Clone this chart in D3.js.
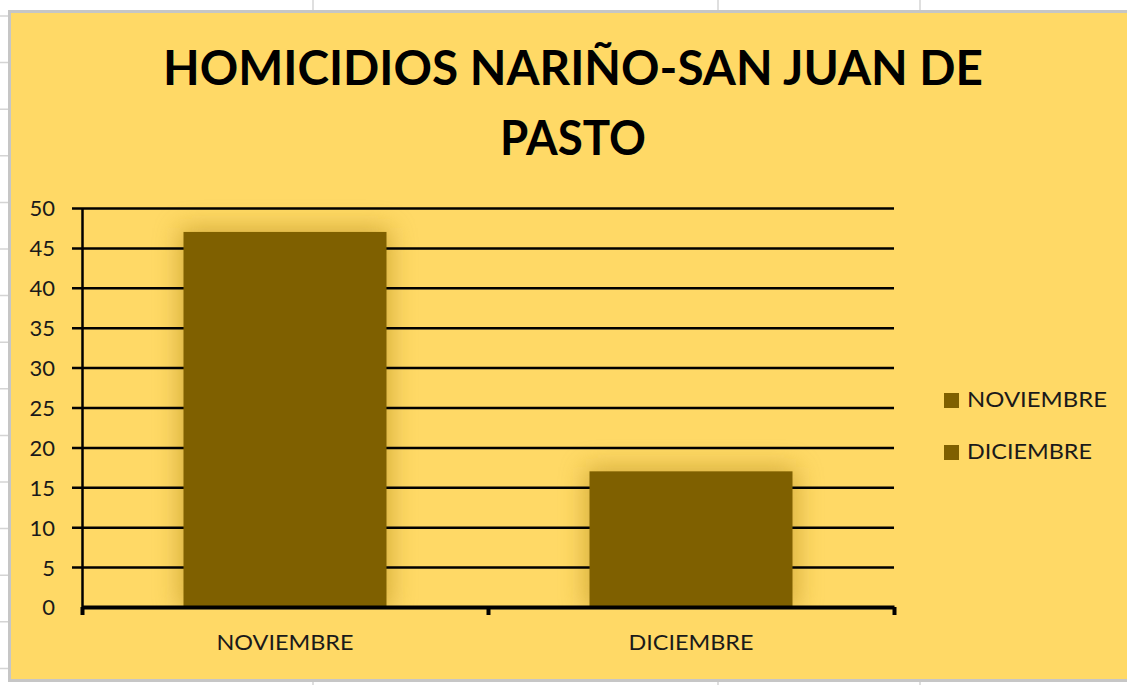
<!DOCTYPE html>
<html>
<head>
<meta charset="utf-8">
<script src="https://cdn.jsdelivr.net/npm/d3@7"></script>
<style>
  html, body { margin: 0; padding: 0; background: #fff; }
  svg { display: block; }
</style>
</head>
<body>
<script>
// chart data
var titleLines = ["HOMICIDIOS NARIÑO-SAN JUAN DE", "PASTO"];
var months = ["NOVIEMBRE", "DICIEMBRE"];
var homicidios = [47, 17];
var yTicks = [0, 5, 10, 15, 20, 25, 30, 35, 40, 45, 50];

var W = 1127, H = 685;
var svg = d3.select("body").append("svg").attr("width", W).attr("height", H);

/**************************
 * spreadsheet backdrop
 **************************/
var sheetCols = [313, 718, 920];
var sheetRows = d3.range(15).map(function(i) { return 16 + i * 46.6; });
svg.selectAll("line.col").data(sheetCols).enter().append("line")
  .attr("x1", function(d) { return d; }).attr("x2", function(d) { return d; })
  .attr("y1", 0).attr("y2", H).attr("stroke", "#d4d4d4").attr("stroke-width", 1.5);
svg.selectAll("line.row").data(sheetRows).enter().append("line")
  .attr("x1", 0).attr("x2", W)
  .attr("y1", function(d) { return d; }).attr("y2", function(d) { return d; })
  .attr("stroke", "#d4d4d4").attr("stroke-width", 1.5);

// chart area
svg.append("rect").attr("x", 9.5).attr("y", 11.5).attr("width", W + 10).attr("height", 669)
  .attr("fill", "#ffd966").attr("stroke", "#c6c6c6").attr("stroke-width", 3);

var defs = svg.append("defs");
var glow = defs.append("filter").attr("id", "glow")
  .attr("x", "-60%").attr("y", "-60%").attr("width", "220%").attr("height", "220%");
glow.append("feGaussianBlur").attr("stdDeviation", 13);

/**************************
 * title
 **************************/
svg.selectAll("text.title").data(titleLines).enter().append("text")
  .attr("class", "title")
  .attr("x", 573).attr("y", function(d, i) { return 85 + i * 70; })
  .attr("text-anchor", "middle")
  .attr("font-family", "Lato, 'Open Sans', sans-serif")
  .attr("font-weight", "bold").attr("font-size", 48)
  .attr("fill", "#000")
  .attr("textLength", function(d, i) { return i === 0 ? 820 : 146; })
  .attr("lengthAdjust", "spacingAndGlyphs")
  .text(function(d) { return d; });

/**************************
 * plot
 **************************/
var plotL = 82, plotR = 894, plotT = 208, plotB = 607;
var x = d3.scaleBand().domain(months).range([plotL, plotR]).paddingInner(0.5).paddingOuter(0.25);
var y = d3.scaleLinear().domain([0, 50]).range([plotB, plotT]);

// soft glow behind bars (under the gridlines)
var plotClip = defs.append("clipPath").attr("id", "plotclip");
plotClip.append("rect").attr("x", plotL).attr("y", plotT - 20).attr("width", plotR - plotL).attr("height", plotB - plotT + 20);
svg.append("g").attr("clip-path", "url(#plotclip)")
  .selectAll("rect.shadow").data(homicidios).enter().append("rect")
  .attr("class", "shadow")
  .attr("x", function(d, i) { return x(months[i]) - 4; })
  .attr("width", x.bandwidth() + 8)
  .attr("y", function(d) { return y(d) - 4; })
  .attr("height", function(d) { return plotB - y(d) + 8; })
  .attr("fill", "#b88f1c").attr("opacity", 0.6)
  .attr("filter", "url(#glow)");

// gridlines (extend 10px left of the axis as ticks)
var grid = svg.append("g").attr("transform", "translate(" + (plotL - 10) + ",0)")
  .call(d3.axisRight(y).tickValues(yTicks.slice(1)).tickSize(plotR - plotL + 10).tickFormat(""));
grid.select(".domain").remove();
grid.selectAll("line").attr("stroke", "#000").attr("stroke-width", 2.5);

// y axis line and labels
var yAxis = svg.append("g").attr("transform", "translate(" + plotL + ",0)")
  .call(d3.axisLeft(y).tickValues(yTicks).tickSize(0).tickPadding(27));
yAxis.select(".domain").attr("stroke", "#000").attr("stroke-width", 2.5);
yAxis.selectAll("text")
  .attr("font-family", "Lato, 'Open Sans', sans-serif").attr("font-size", 22)
  .attr("fill", "#1a1a1a").attr("dy", "0.36em");

// bars
svg.selectAll("rect.bar").data(homicidios).enter().append("rect")
  .attr("class", "bar")
  .attr("x", function(d, i) { return x(months[i]); })
  .attr("width", x.bandwidth())
  .attr("y", function(d) { return y(d); })
  .attr("height", function(d) { return plotB - y(d); })
  .attr("fill", "#7f6000");

// x axis
var xEdges = d3.scaleLinear().domain([0, months.length]).range([plotL, plotR]);
var xAxis = svg.append("g").attr("transform", "translate(0," + plotB + ")")
  .call(d3.axisBottom(xEdges).tickValues(d3.range(months.length + 1)).tickSize(8).tickSizeOuter(0).tickFormat(""));
xAxis.select(".domain").attr("stroke", "#000").attr("stroke-width", 4);
xAxis.selectAll("line").attr("stroke", "#000").attr("stroke-width", 4);

svg.selectAll("text.xlab").data(months).enter().append("text")
  .attr("class", "xlab")
  .attr("x", function(d) { return x(d) + x.bandwidth() / 2; })
  .attr("y", 650)
  .attr("text-anchor", "middle")
  .attr("font-family", "Lato, 'Open Sans', sans-serif").attr("font-size", 22)
  .attr("fill", "#1a1a1a")
  .attr("textLength", function(d, i) { return i === 0 ? 137 : 125; })
  .attr("lengthAdjust", "spacingAndGlyphs")
  .text(function(d) { return d; });

/**************************
 * legend
 **************************/
var legend = svg.selectAll("g.legend").data(months).enter().append("g")
  .attr("class", "legend")
  .attr("transform", function(d, i) { return "translate(944," + (393 + i * 52) + ")"; });
legend.append("rect").attr("width", 15).attr("height", 15).attr("fill", "#7f6000");
legend.append("text")
  .attr("x", 23).attr("y", 14)
  .attr("font-family", "Lato, 'Open Sans', sans-serif").attr("font-size", 22)
  .attr("fill", "#1a1a1a")
  .attr("textLength", function(d, i) { return i === 0 ? 140 : 125; })
  .attr("lengthAdjust", "spacingAndGlyphs")
  .text(function(d) { return d; });
</script>
</body>
</html>
